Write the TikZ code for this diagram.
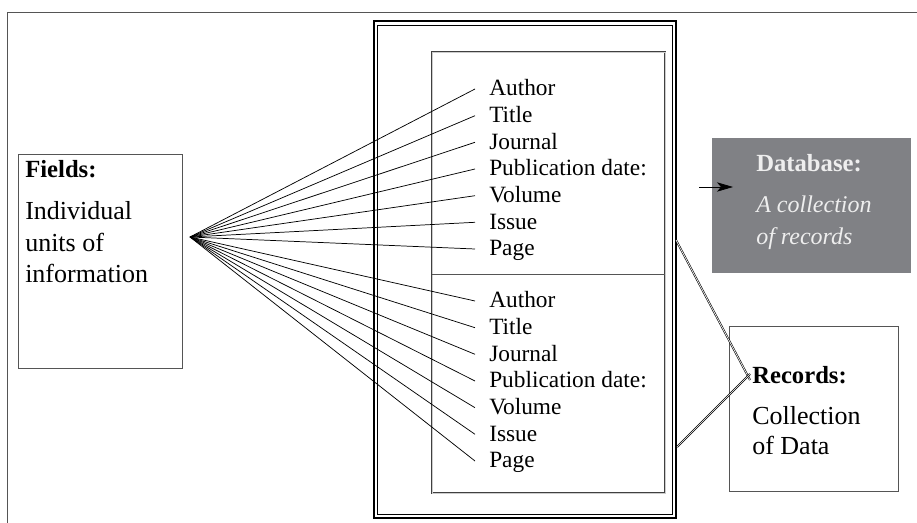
\documentclass[tikz,border=0pt]{standalone}
\usepackage{fontspec}
\setmainfont{Liberation Serif}
\usetikzlibrary{arrows.meta}
\definecolor{dbgray}{HTML}{808185}
\definecolor{dbtext}{HTML}{EEEEEE}
\definecolor{framegray}{HTML}{555555}
\begin{document}
\begin{tikzpicture}[x=0.75pt,y=-0.75pt,
  lab/.style={anchor=base west,inner sep=0pt,font=\fontsize{17.5}{20}\selectfont},
  txt/.style={anchor=base west,inner sep=0pt,font=\fontsize{19.5}{22}\selectfont},
  bfx/.style={anchor=base west,inner sep=0pt,font=\fontsize{18.5}{22}\selectfont\bfseries},
  itx/.style={anchor=base west,inner sep=0pt,text=dbtext,font=\fontsize{18}{22}\selectfont\itshape},
  fanline/.style={line width=0.55pt,black},
  boxnode/.style={draw=framegray,line width=0.7pt,anchor=north west,inner sep=0pt},
  dblline/.style={draw=black,double=white,double distance=0.5pt,line width=0.45pt}]
\useasboundingbox (0,0) rectangle (917,523);
% page frame
\draw[line width=0.6pt,framegray] (7,523) -- (7,12) -- (917,12);
% double frame around records
\draw[line width=1.5pt] (374,21) rectangle (676,518);
\draw[line width=0.5pt] (377.5,25) rectangle (672.5,514);
% inner box
\draw[draw=gray!50!black,double=gray!40,double distance=0.45pt,line width=0.45pt] (432,52) rectangle (665,493);
\draw[line width=0.6pt,framegray] (432,274) -- (665,274);
% Fields box
\node[boxnode,minimum width=123pt,minimum height=160.5pt] (fields) at (18,154) {};
\node[bfx] (f1) at (25,178) {Fields:};
\node[txt] (f2) at (25,220) {Individual};
\node[txt] (f3) at (25,252) {units of};
\node[txt] (f4) at (25,283) {information};
\coordinate (fan) at (190,237);
% labels
\foreach \t/\y [count=\i] in {Author/96,Title/122.7,Journal/149.3,Publication date:/176,Volume/202.7,Issue/229.3,Page/256}{
  \node[lab] (u\i) at (489,\y) {\t};
  \draw[fanline] (fan) -- ([shift={(-14,-7)}]u\i.base west);
}
\foreach \t/\y [count=\i] in {Author/308,Title/334.7,Journal/361.3,Publication date:/388,Volume/414.7,Issue/441.3,Page/468}{
  \node[lab] (l\i) at (489,\y) {\t};
  \draw[fanline] (fan) -- ([shift={(-14,-7)}]l\i.base west);
}
% Database box
\node[anchor=north west,fill=dbgray,inner sep=0pt,minimum width=149.25pt,minimum height=101.25pt] (db) at (712,138) {};
\node[bfx,text=dbtext] (d1) at (756,172) {Database:};
\node[itx] (d2) at (756,213) {A collection};
\node[itx] (d3) at (756,245) {of records};
\coordinate (as) at (699,187);
\coordinate (ae) at (733,187);
\draw[line width=0.6pt,-{Stealth[length=12pt,width=7pt,inset=3pt]}] (as) -- (ae);
% Records box
\node[boxnode,minimum width=126.75pt,minimum height=123.75pt] (rec) at (729,326) {};
\node[bfx] (r1) at (752,384) {Records:};
\node[txt] (r2) at (752,425) {Collection};
\node[txt] (r3) at (752,455) {of Data};
% record connectors
\coordinate (c1) at (676,240);
\coordinate (c2) at (677,447);
\coordinate (e1) at (750,380);
\coordinate (e2) at (750,374);
\draw[dblline] (c1) -- (e1);
\draw[dblline] (c2) -- (e2);
\end{tikzpicture}
\end{document}
